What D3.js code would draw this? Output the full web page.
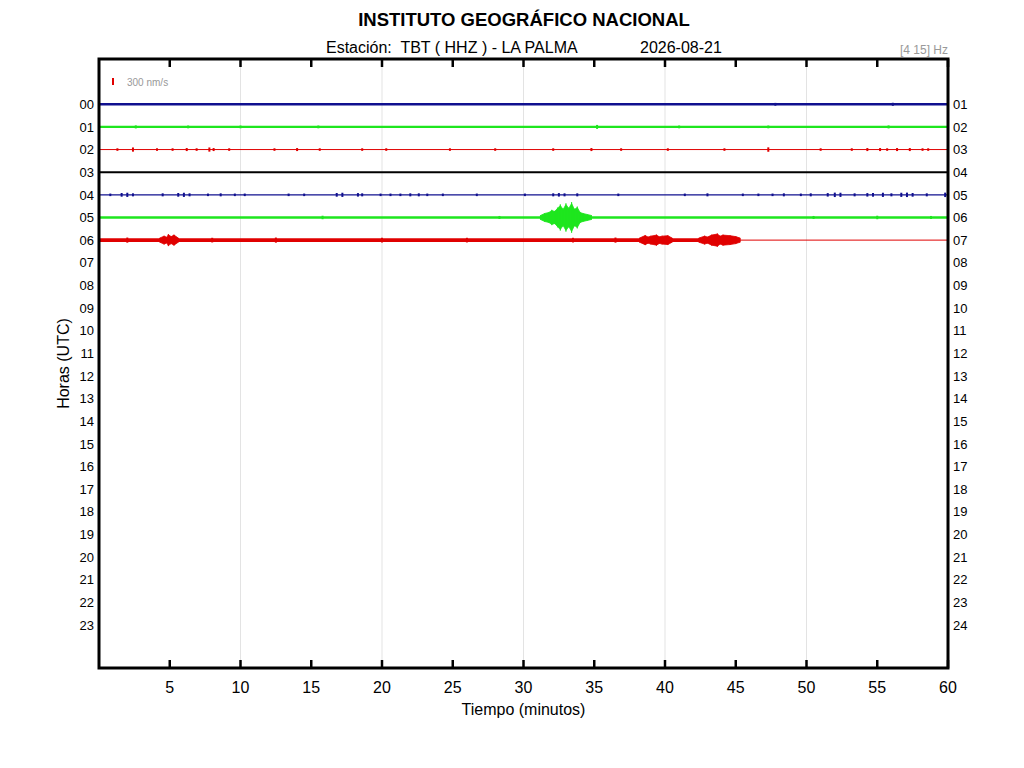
<!DOCTYPE html>
<html>
<head>
<meta charset="utf-8">
<script src="https://cdn.jsdelivr.net/npm/d3@7"></script>
<style>
  body { margin: 0; background: #fff; }
  text { font-family: "Liberation Sans", Arial, sans-serif; }
</style>
</head>
<body>
<div id="chart"></div>
<script>
// hour labels left / right of the drum
var leftLabels = ["00","01","02","03","04","05","06","07","08","09","10","11",
                  "12","13","14","15","16","17","18","19","20","21","22","23"];
var rightLabels = ["01","02","03","04","05","06","07","08","09","10","11","12",
                   "13","14","15","16","17","18","19","20","21","22","23","24"];
var minuteTicks = [5,10,15,20,25,30,35,40,45,50,55,60];
var gridMinutes = [10,20,30,40,50];

// traces recorded so far (hours 00-06)
var traceColors = ["#10108f", "#1ee61e", "#e00000", "#000000"];
var traceNoise = [50, 50, 21, 45, 28, 56, 78];           // half amplitude, nm/s
var traceEnd = [60, 60, 60, 60, 60, 60, 45.3];           // minutes with data

// isolated spikes: [minute, half amplitude nm/s]
var spikesH0 = [[47.8,60],[56.1,65]];
var spikesH1 = [[2.6,65],[6.3,60],[10.0,60],[15.5,60],[35.2,85],[41.0,60],[47.3,60],[55.8,65]];
var spikesH2 = [[1.3,55],[2.4,90],[4.1,55],[5.2,55],[6.2,65],[6.9,55],[7.8,90],[8.1,65],[9.2,55],
                [12.4,55],[14.0,65],[15.6,55],[18.6,55],[20.3,55],[24.8,55],[28.0,55],[32.1,55],
                [34.8,65],[36.9,55],[40.2,55],[44.2,55],[47.3,95],[51.0,55],[53.2,55],[54.3,65],
                [55.2,65],[55.7,55],[56.4,65],[57.3,65],[58.2,55],[58.6,55]];
var spikesH4 = [[0.8,55],[1.6,80],[2.0,90],[2.4,65],[4.5,65],[5.6,80],[6.0,90],[6.4,65],[7.7,55],
                [8.6,65],[9.6,55],[10.3,55],[13.4,55],[14.5,55],[16.8,80],[17.2,90],[18.3,75],
                [18.6,65],[19.9,55],[20.6,55],[21.3,55],[22.0,65],[22.6,65],[23.2,55],[24.3,55],
                [26.7,55],[30.1,55],[32.1,65],[32.5,75],[32.9,65],[33.8,65],[36.7,55],[41.4,55],
                [43.0,65],[45.5,55],[46.6,55],[47.6,55],[48.4,65],[49.6,55],[50.3,65],[51.5,75],
                [52.0,95],[52.4,90],[53.4,65],[54.3,75],[54.7,80],[55.4,90],[56.0,65],[56.7,90],
                [57.1,95],[57.5,80],[58.5,65],[59.8,95]];
var spikesH5 = [[15.8,75],[28.3,65],[50.5,65],[55.0,75],[58.8,65]];
var spikesH6 = [[2.0,110],[8.0,100],[12.5,110],[20.0,100],[26.0,100],[33.5,100],[36.5,110]];
var spikes = [spikesH0, spikesH1, spikesH2, [], spikesH4, spikesH5, spikesH6];

// event envelopes: [minute, half amplitude nm/s]
var eventH5 = [[31.2,86],[31.5,172],[31.8,215],[32.0,300],[32.2,258],[32.4,387],[32.6,516],[32.8,344],
               [33.0,559],[33.2,387],[33.4,602],[33.6,344],[33.8,430],[34.0,215],[34.2,172],[34.5,129],[34.8,86]];
var eventH6a = [[4.3,90],[4.6,170],[4.8,120],[4.9,235],[5.1,150],[5.3,215],[5.6,90]];
var eventH6b = [[38.2,90],[38.6,195],[38.8,130],[39.0,170],[39.4,215],[39.6,140],[39.8,170],[40.2,190],[40.5,90]];
var eventH6c = [[42.4,90],[42.8,170],[43.0,130],[43.3,215],[43.7,260],[43.9,170],[44.1,215],[44.6,190],[45.0,150],[45.3,90]];
var events = [{hour: 5, env: eventH5}, {hour: 6, env: eventH6a},
              {hour: 6, env: eventH6b}, {hour: 6, env: eventH6c}];

var scaleBar = 300; // nm/s

var width = 1024, height = 768;
var margin = {top: 59, right: 76, bottom: 100, left: 99};

var svg = d3.select("#chart")
  .append("svg")
    .attr("width", width)
    .attr("height", height);

var x = d3.scaleLinear().domain([0, 60]).range([margin.left, width - margin.right]);
var y = d3.scaleLinear().domain([-2, 24.9]).range([margin.top, height - margin.bottom]);
var amp = d3.scaleLinear().domain([0, scaleBar]).range([0, 7]);

// grid lines
svg.selectAll(".grid")
  .data(gridMinutes)
  .enter().append("line")
    .attr("x1", function(d) { return x(d); })
    .attr("x2", function(d) { return x(d); })
    .attr("y1", y.range()[0])
    .attr("y2", y.range()[1])
    .attr("stroke", "#e3e3e3")
    .attr("stroke-width", 1);

// traces
traceNoise.forEach(function(n, h) {
  var col = traceColors[h % traceColors.length];
  svg.append("line")
    .attr("x1", x(0)).attr("x2", x(traceEnd[h]))
    .attr("y1", y(h)).attr("y2", y(h))
    .attr("stroke", col)
    .attr("stroke-width", Math.max(1, 2 * amp(n)));
  if (traceEnd[h] < 60) {
    svg.append("line")
      .attr("x1", x(traceEnd[h])).attr("x2", x(60))
      .attr("y1", y(h)).attr("y2", y(h))
      .attr("stroke", col)
      .attr("stroke-width", 1);
  }
  svg.selectAll(".spk" + h)
    .data(spikes[h])
    .enter().append("line")
      .attr("x1", function(d) { return x(d[0]); })
      .attr("x2", function(d) { return x(d[0]); })
      .attr("y1", function(d) { return y(h) - amp(d[1]); })
      .attr("y2", function(d) { return y(h) + amp(d[1]); })
      .attr("stroke", col)
      .attr("stroke-width", 2);
});

// events
events.forEach(function(ev) {
  var col = traceColors[ev.hour % traceColors.length];
  svg.append("path")
    .datum(ev.env)
    .attr("fill", col)
    .attr("stroke", col)
    .attr("stroke-width", 0.8)
    .attr("d", d3.area()
      .x(function(d) { return x(d[0]); })
      .y0(function(d) { return y(ev.hour) + amp(d[1]); })
      .y1(function(d) { return y(ev.hour) - amp(d[1]); })
    );
  // vertical strokes at each reading, to keep the trace look
  svg.selectAll(null)
    .data(ev.env)
    .enter().append("line")
      .attr("x1", function(d) { return x(d[0]); })
      .attr("x2", function(d) { return x(d[0]); })
      .attr("y1", function(d) { return y(ev.hour) - amp(d[1]) * 1.1; })
      .attr("y2", function(d) { return y(ev.hour) + amp(d[1]) * 1.1; })
      .attr("stroke", col)
      .attr("stroke-width", 1);
});

// ticks top and bottom
var tickLen = 8;
svg.selectAll(".ttop")
  .data(minuteTicks)
  .enter().append("line")
    .attr("x1", function(d) { return x(d); })
    .attr("x2", function(d) { return x(d); })
    .attr("y1", y.range()[0])
    .attr("y2", y.range()[0] + tickLen)
    .attr("stroke", "#000")
    .attr("stroke-width", 2.5);
svg.selectAll(".tbot")
  .data(minuteTicks)
  .enter().append("line")
    .attr("x1", function(d) { return x(d); })
    .attr("x2", function(d) { return x(d); })
    .attr("y1", y.range()[1])
    .attr("y2", y.range()[1] - tickLen)
    .attr("stroke", "#000")
    .attr("stroke-width", 2.5);

// frame
svg.append("rect")
  .attr("x", x(0)).attr("y", y.range()[0])
  .attr("width", x(60) - x(0))
  .attr("height", y.range()[1] - y.range()[0])
  .attr("fill", "none")
  .attr("stroke", "#000")
  .attr("stroke-width", 3);

// hour labels
svg.selectAll(".hl")
  .data(leftLabels)
  .enter().append("text")
    .attr("x", x(0) - 5)
    .attr("y", function(d, i) { return y(i); })
    .attr("dy", "0.36em")
    .attr("text-anchor", "end")
    .attr("font-size", 13)
    .text(function(d) { return d; });
svg.selectAll(".hr")
  .data(rightLabels)
  .enter().append("text")
    .attr("x", x(60) + 5)
    .attr("y", function(d, i) { return y(i); })
    .attr("dy", "0.36em")
    .attr("text-anchor", "start")
    .attr("font-size", 13)
    .text(function(d) { return d; });

// minute labels
svg.selectAll(".ml")
  .data(minuteTicks)
  .enter().append("text")
    .attr("x", function(d) { return x(d); })
    .attr("y", y.range()[1] + 25)
    .attr("text-anchor", "middle")
    .attr("font-size", 16)
    .text(function(d) { return d; });

// axis titles
svg.append("text")
  .attr("x", (x(0) + x(60)) / 2)
  .attr("y", y.range()[1] + 47)
  .attr("text-anchor", "middle")
  .attr("font-size", 16)
  .text("Tiempo (minutos)");
svg.append("text")
  .attr("transform", "translate(69," + ((y.range()[0] + y.range()[1]) / 2) + ") rotate(-90)")
  .attr("text-anchor", "middle")
  .attr("font-size", 16)
  .text("Horas (UTC)");

// titles
svg.append("text")
  .attr("x", 524).attr("y", 26)
  .attr("text-anchor", "middle")
  .attr("font-size", 18.5)
  .attr("font-weight", "bold")
  .text("INSTITUTO GEOGRÁFICO NACIONAL");
svg.append("text")
  .attr("x", 326).attr("y", 53)
  .attr("font-size", 16)
  .attr("xml:space", "preserve")
  .text("Estación:  TBT ( HHZ ) - LA PALMA");
svg.append("text")
  .attr("x", 640).attr("y", 53)
  .attr("font-size", 16)
  .text("2026-08-21");
svg.append("text")
  .attr("x", x(60)).attr("y", 54)
  .attr("text-anchor", "end")
  .attr("font-size", 12)
  .attr("fill", "#999")
  .text("[4 15] Hz");

// amplitude scale bar
svg.append("line")
  .attr("x1", 113).attr("x2", 113)
  .attr("y1", 85).attr("y2", 85 - amp(scaleBar))
  .attr("stroke", "#e00000")
  .attr("stroke-width", 2);
svg.append("text")
  .attr("x", 127).attr("y", 86)
  .attr("font-size", 10)
  .attr("fill", "#999")
  .text(scaleBar + " nm/s");
</script>
</body>
</html>
